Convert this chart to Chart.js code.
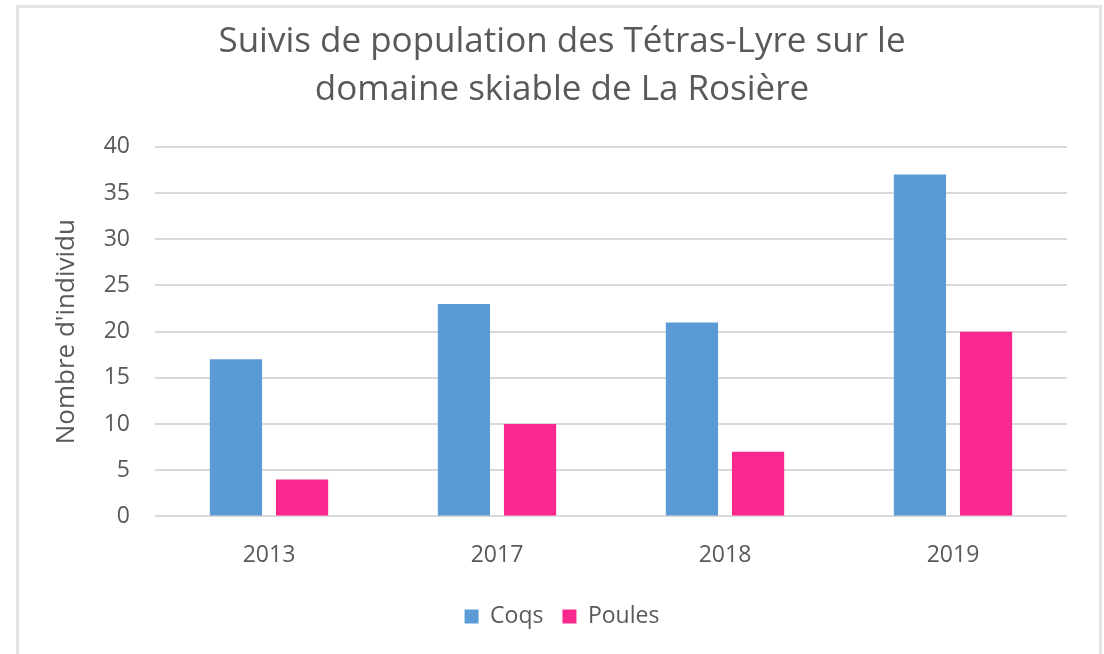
<!DOCTYPE html>
<html>
<head>
<meta charset="utf-8">
<script src="https://cdn.jsdelivr.net/npm/chart.js@4"></script>
<style>
  html, body { margin: 0; padding: 0; background: #fff; }
  #frame {
    position: absolute; left: 16px; top: 5px; width: 1080px; height: 700px;
    border: 3px solid #e3e3e3; border-bottom: none;
  }
  #wrap { position: absolute; left: 0; top: 0; width: 1104px; height: 654px; }
</style>
</head>
<body>
<div id="frame"></div>
<div id="wrap"><canvas id="chart"></canvas></div>
<script>
// Données
const annees = ["2013", "2017", "2018", "2019"];
const coqs = [17, 23, 21, 37];
const poules = [4, 10, 7, 20];

const gris = "#595959";
const police = "'Open Sans', Lato, sans-serif";

const ctx = document.getElementById("chart").getContext("2d");
new Chart(ctx, {
  type: "bar",
  data: {
    labels: annees,
    datasets: [
      { label: "Coqs", data: coqs, backgroundColor: "#5b9bd5", yAxisID: "y" },
      { label: "Poules", data: poules, backgroundColor: "#f9288f", yAxisID: "y" }
    ]
  },
  options: {
    responsive: true,
    maintainAspectRatio: false,
    animation: false,
    categoryPercentage: 0.58,
    barPercentage: 0.79,
    layout: { padding: { left: 40, right: 20, top: 8, bottom: 16 } },
    plugins: {
      title: {
        display: true,
        text: ["Suivis de population des Tétras-Lyre sur le", "domaine skiable de La Rosière"],
        color: gris,
        font: { family: police, size: 35, weight: "normal", lineHeight: 1.37 },
        padding: { top: 10, bottom: 33 }
      },
      legend: {
        position: "bottom",
        labels: {
          color: gris,
          font: { family: police, size: 23 },
          boxWidth: 14,
          boxHeight: 14,
          padding: 19
        }
      },
      tooltip: { enabled: false }
    },
    scales: {
      x: {
        grid: { display: false },
        border: { display: false },
        ticks: { color: gris, font: { family: police, size: 23 }, padding: 17 }
      },
      y: {
        min: 0,
        max: 40,
        ticks: { stepSize: 5, color: gris, font: { family: police, size: 23 }, padding: 25 },
        grid: { color: "#d9d9d9", lineWidth: 2, drawTicks: false },
        border: { display: false },
        title: {
          display: true,
          text: "Nombre d'individu",
          color: gris,
          font: { family: police, size: 26 },
          padding: { top: 11, bottom: 0 }
        },
        afterFit: function(scale) { scale.width = 115; }
      },
      y2: {
        position: "right",
        display: true,
        ticks: { display: false },
        grid: { display: false },
        border: { display: false },
        afterFit: function(scale) { scale.width = 17; }
      }
    }
  }
});
</script>
</body>
</html>
